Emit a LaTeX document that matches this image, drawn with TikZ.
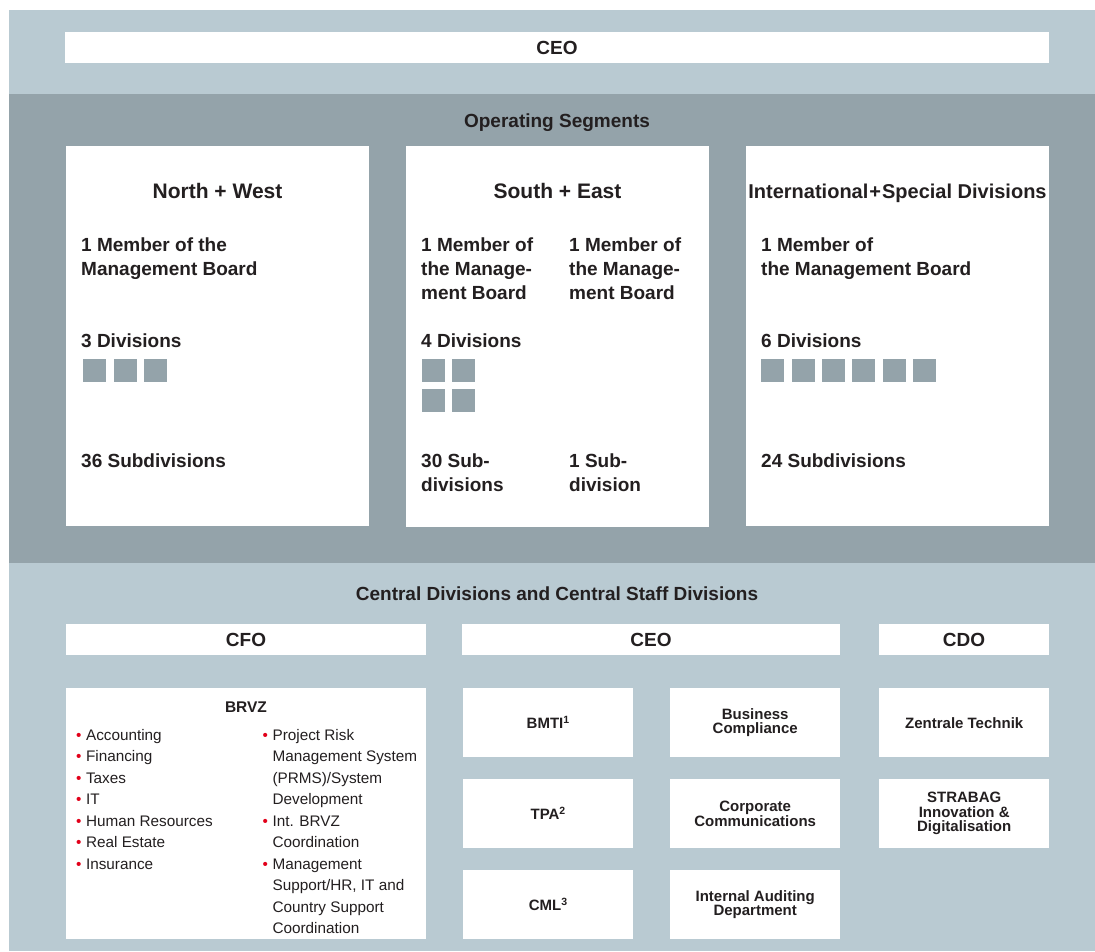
\documentclass[tikz,border=0pt]{standalone}
\usepackage{fontspec}
\setmainfont{Liberation Sans}
\definecolor{bandlight}{RGB}{185,202,210}
\definecolor{banddark}{RGB}{148,163,170}
\definecolor{ink}{RGB}{35,31,32}
\definecolor{bulred}{RGB}{226,0,26}
\newcommand{\lns}[1]{\begin{tabular}[t]{@{}l@{}}#1\end{tabular}}
\newcommand{\bul}{\textcolor{bulred}{\textbullet}}
\tikzset{
  panel/.style={fill=white, draw=none, inner sep=0pt, anchor=north west},
  txt/.style={anchor=base west, inner sep=0pt, text=ink, font=\bfseries\fontsize{19}{24}\selectfont},
  head/.style={anchor=base, inner sep=0pt, text=ink, font=\bfseries\fontsize{19}{24}\selectfont},
  segtitle/.style={anchor=base, inner sep=0pt, text=ink, font=\bfseries\fontsize{21}{25}\selectfont},
  divsq/.style={fill=banddark, draw=none, minimum size=23pt, inner sep=0pt, anchor=north west},
  unitbox/.style={panel, minimum width=170pt, minimum height=69pt, align=center, text=ink, font=\bfseries\fontsize{15}{14.5}\selectfont},
  listtxt/.style={anchor=base west, inner sep=0pt, text=ink, font=\fontsize{15.3}{21.5}\selectfont}
}
\begin{document}
\begin{tikzpicture}[x=1pt,y=-1pt]
\path[fill=white] (0,0) rectangle (1095,951);
\useasboundingbox (0,0) rectangle (1095,951);
\fill[bandlight] (9,10) rectangle (1095,951);
\fill[banddark] (9,94) rectangle (1095,563);

% top CEO
\node[panel, minimum width=984pt, minimum height=31pt] (ceotop) at (65,32) {};
\node[head] (ceotoplbl) at (557,54.5) {CEO};

% operating segments
\node[head] (opseg) at (557,127) {Operating Segments};

\node[panel, minimum width=303pt, minimum height=380pt] (nw) at (66,146) {};
\node[panel, minimum width=303pt, minimum height=381pt] (se) at (406,146) {};
\node[panel, minimum width=303pt, minimum height=380pt] (intl) at (746,146) {};

% North + West
\node[segtitle] (nwt) at (217.5,198) {North + West};
\node[txt] (nwmb) at (81,251) {\lns{1 Member of the\\Management Board}};
\node[txt] (nwdiv) at (81,347) {3 Divisions};
\foreach \i in {0,1,2} \node[divsq] (nwsq\i) at ({83+30.5*\i},359) {};
\node[txt] (nwsub) at (81,467) {36 Subdivisions};

% South + East
\node[segtitle] (set) at (557.5,198) {South + East};
\node[txt] (semba) at (421,251) {\lns{1 Member of\\the Manage-\\ment Board}};
\node[txt] (sembb) at (569,251) {\lns{1 Member of\\the Manage-\\ment Board}};
\node[txt] (sediv) at (421,347) {4 Divisions};
\node[divsq] (sesq1) at (422,359) {};
\node[divsq] (sesq2) at (452,359) {};
\node[divsq] (sesq3) at (422,389) {};
\node[divsq] (sesq4) at (452,389) {};
\node[txt] (sesuba) at (421,467) {\lns{30 Sub-\\divisions}};
\node[txt] (sesubb) at (569,467) {\lns{1 Sub-\\division}};

% International + Special Divisions
\node[segtitle, font=\bfseries\fontsize{20}{24}\selectfont] (intlt) at (897.5,198) {International\kern1pt+\kern1ptSpecial Divisions};
\node[txt] (intlmb) at (761,251) {\lns{1 Member of\\the Management Board}};
\node[txt] (intldiv) at (761,347) {6 Divisions};
\foreach \i in {0,...,5} \node[divsq] (intlsq\i) at ({761+30.4*\i},359) {};
\node[txt] (intlsub) at (761,467) {24 Subdivisions};

% central divisions
\node[head] (central) at (557,600) {Central Divisions and Central Staff Divisions};

\node[panel, minimum width=360pt, minimum height=31pt] (cfo) at (66,624) {};
\node[head] (cfolbl) at (246,646.5) {CFO};
\node[panel, minimum width=378pt, minimum height=31pt] (ceo) at (462,624) {};
\node[head] (ceolbl) at (651,646.5) {CEO};
\node[panel, minimum width=170pt, minimum height=31pt] (cdo) at (879,624) {};
\node[head] (cdolbl) at (964,646.5) {CDO};

% BRVZ
\node[panel, minimum width=360pt, minimum height=251pt] (brvz) at (66,688) {};
\node[anchor=base, inner sep=0pt, text=ink, font=\bfseries\fontsize{15.5}{18}\selectfont] (brvzt) at (246,712) {BRVZ};
\node[listtxt] (brvzl) at (76,740) {\begin{tabular}[t]{@{}l@{\hspace{4.5pt}}l@{}}
\bul & Accounting\\
\bul & Financing\\
\bul & Taxes\\
\bul & IT\\
\bul & Human Resources\\
\bul & Real Estate\\
\bul & Insurance
\end{tabular}};
\node[listtxt] (brvzr) at (262.5,740) {\begin{tabular}[t]{@{}l@{\hspace{4.5pt}}l@{}}
\bul & Project Risk\\
 & Management System\\
 & (PRMS)/System\\
 & Development\\
\bul & Int. BRVZ\\
 & Coordination\\
\bul & Management\\
 & Support/HR, IT and\\
 & Country Support\\
 & Coordination
\end{tabular}};

% CEO units
\node[unitbox] (bmti) at (463,688) {BMTI\textsuperscript{1}};
\node[unitbox] (tpa) at (463,779) {TPA\textsuperscript{2}};
\node[unitbox] (cml) at (463,870) {CML\textsuperscript{3}};
\node[unitbox] (bc) at (670,688) {Business\\Compliance};
\node[unitbox] (cc) at (670,779) {Corporate\\Communications};
\node[unitbox] (iad) at (670,870) {Internal Auditing\\Department};

% CDO units
\node[unitbox] (zt) at (879,688) {Zentrale Technik};
\node[unitbox] (sid) at (879,779) {STRABAG\\Innovation \&\\Digitalisation};
\end{tikzpicture}
\end{document}
